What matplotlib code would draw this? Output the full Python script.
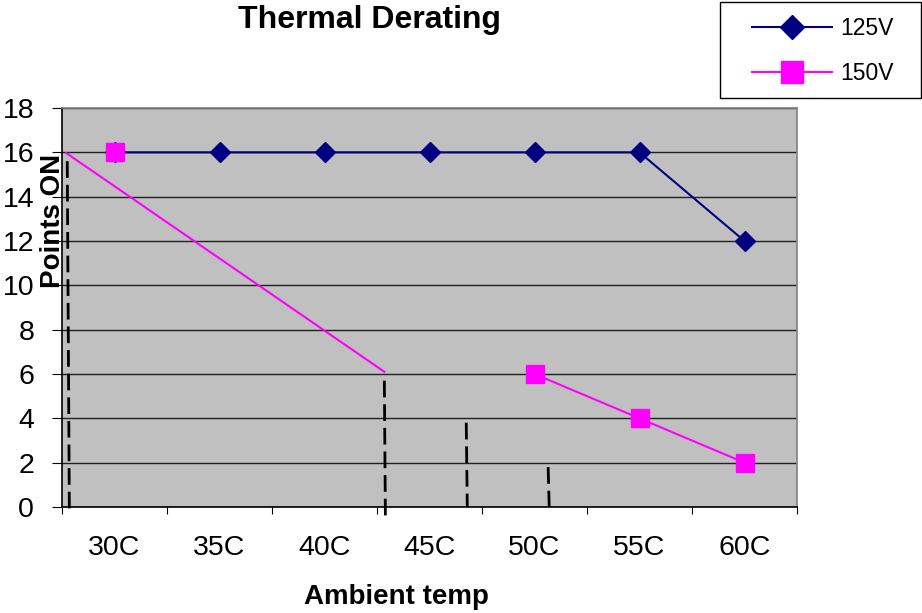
import matplotlib.pyplot as plt
from matplotlib.patches import Rectangle
import numpy as np

plt.rcParams['font.family'] = ['Liberation Sans', 'DejaVu Sans']

# chart data
temps = ["30C", "35C", "40C", "45C", "50C", "55C", "60C"]
points_125v = [16, 16, 16, 16, 16, 16, 12]
points_150v = [16, np.nan, np.nan, np.nan, 6, 4, 2]

# hand-drawn overlay on the original chart (category index, value)
sketch_x = [-0.46, 2.57]
sketch_y = [15.97, 6.1]
guide_x = [(-0.45, -0.43), (2.57, 2.58), (3.35, 3.36), (4.13, 4.14)]
guide_y = [(15.6, -0.2), (5.7, -0.45), (3.8, 0.0), (1.8, 0.0)]

W, H = 922, 613
fig = plt.figure(figsize=(W / 100, H / 100), dpi=100)
ax = fig.add_axes([62 / W, 1 - 507 / H, 735 / W, 399 / H])
ax.set_facecolor("#C0C0C0")

xs = np.arange(len(temps))
ax.plot(xs, points_125v, color="#000080", lw=1.5, marker="D",
        markersize=10.5, label="125V", zorder=3)
ax.plot(xs, points_150v, color="#FF00FF", lw=1.5, marker="s",
        markersize=13, label="150V", zorder=4)

ax.plot(sketch_x, sketch_y, color="#FF00FF", lw=1.5, zorder=2)
for gx, gy in zip(guide_x, guide_y):
    ax.plot(gx, gy, color="black", lw=2, ls=(0, (6, 2.5)),
            zorder=2, clip_on=False)

ax.set_xlim(-0.5, len(temps) - 0.5)
ax.set_ylim(0, 18)
ax.set_yticks(range(0, 19, 2))
ax.grid(axis="y", color="#202020", lw=1)
ax.set_axisbelow(True)

ax.set_xticks(np.arange(-0.5, len(temps), 1.0))
ax.set_xticklabels([])
ax.set_xticks(xs, minor=True)
ax.set_xticklabels(temps, minor=True)
ax.tick_params(axis="x", which="major", length=5, direction="out")
ax.tick_params(axis="x", which="minor", length=0, pad=20, labelsize=20.5)
ax.tick_params(axis="y", length=7, direction="out", pad=13, labelsize=20.5)

for side in ("left", "bottom"):
    ax.spines[side].set_color("black")
    ax.spines[side].set_linewidth(1.2)
for side in ("top", "right"):
    ax.spines[side].set_color("#808080")
    ax.spines[side].set_linewidth(1.2)

fig.text(369 / W, 1 - 20 / H, "Thermal Derating", ha="center",
         va="center", fontsize=23, fontweight="bold")
fig.text(396 / W, 1 - 597 / H, "Ambient temp", ha="center",
         va="center", fontsize=20, fontweight="bold")
fig.text(53 / W, 1 - 221 / H, "Points ON", ha="center", va="center",
         rotation=90, fontsize=20, fontweight="bold")

# legend box drawn on its own, legend entries placed inside it
fig.patches.append(Rectangle((720 / W, 1 - 98 / H), 201 / W, 96 / H,
                             transform=fig.transFigure, facecolor="white",
                             edgecolor="black", lw=1.0, zorder=5))
leg = fig.legend(loc="upper left", bbox_to_anchor=(752 / W, 1 - 17 / H),
                 fontsize=16.5, handlelength=3.5, handletextpad=0.35,
                 labelspacing=0.95, borderpad=0, frameon=False,
                 borderaxespad=0, markerscale=1.2)
leg.set_zorder(6)

fig.savefig("out.png", dpi=100)
